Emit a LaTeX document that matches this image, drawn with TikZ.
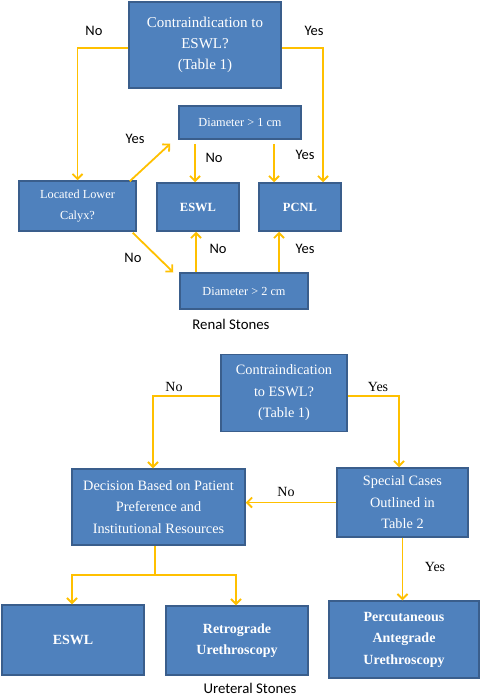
\documentclass[tikz,border=0pt]{standalone}
\usepackage{fontspec}
\setmainfont{Liberation Serif}
\newfontfamily\carl{Carlito}
\usetikzlibrary{arrows.meta}
\definecolor{boxfill}{HTML}{4F81BD}
\definecolor{boxline}{HTML}{3A5E8C}
\definecolor{gold}{HTML}{FFC000}
\begin{document}
\begin{tikzpicture}[x=1pt,y=-1pt,
  box/.style={draw=boxline,fill=boxfill,line width=1.5pt,text=white,align=center,inner sep=0pt},
  topbig/.style={font=\fontsize{15}{21}\selectfont},
  topsmall/.style={font=\fontsize{12.3}{21}\selectfont},
  topbold/.style={font=\fontsize{12.5}{15}\selectfont\bfseries},
  bot/.style={font=\fontsize{14.3}{21.5}\selectfont},
  botbold/.style={font=\fontsize{14}{21.5}\selectfont\bfseries},
  arr/.style={draw=gold,line width=1.8pt,-{Straight Barb[length=5pt,width=10pt]}},
  conn/.style={draw=gold,line width=1.8pt},
  lblc/.style={font=\fontsize{14.5}{16}\selectfont\carl},
  lblt/.style={font=\fontsize{14}{16}\selectfont}]
\useasboundingbox (0,0) rectangle (480,698);
% ---------- Renal stones ----------
\node[box,topbig,minimum width=152,minimum height=86] (A) at (205,45) {Contraindication to\\ESWL?\\(Table 1)};
\node[box,topsmall,minimum width=122,minimum height=33] (D1) at (240,122.5) {Diameter {>} 1 cm};
\node[box,topsmall,minimum width=117,minimum height=50] (L) at (77.5,206) {Located Lower\\Calyx?};
\node[box,topbold,minimum width=82,minimum height=48] (E1) at (198,207) {ESWL};
\node[box,topbold,minimum width=82,minimum height=48] (P1) at (300,207) {PCNL};
\node[box,topsmall,minimum width=128,minimum height=36] (D2) at (244,291) {Diameter {>} 2 cm};

\draw[arr] ([yshift=-3pt]A.west) -| (L.north);
\draw[arr] ([yshift=-3pt]A.east) -| ([xshift=23pt]P1.north);
\coordinate (e1n) at ([xshift=-3pt]E1.north);
\coordinate (p1n) at ([xshift=-26pt]P1.north);
\draw[arr] (D1.south -| e1n) ++(0,4) -- (e1n);
\draw[arr] (D1.south -| p1n) ++(0,4) -- (p1n);
\draw[arr] ([xshift=-7pt,yshift=-1pt]L.north east) -- ([xshift=-8pt,yshift=-4pt]D1.south west);
\draw[arr] ([xshift=-4pt,yshift=-1pt]L.south east) -- ([xshift=-6pt]D2.north west);
\coordinate (e1s) at ([xshift=-2pt]E1.south);
\coordinate (p1s) at ([xshift=-21pt]P1.south);
\draw[arr] (D2.north -| e1s) -- (e1s);
\draw[arr] (D2.north -| p1s) -- (p1s);

\node[lblc] (l1) at (94,31) {No};
\node[lblc] (l2) at (314,31) {Yes};
\node[lblc] (l3) at (135,139) {Yes};
\node[lblc] (l4) at (214,158) {No};
\node[lblc] (l5) at (305,155) {Yes};
\node[lblc] (l6) at (133,258) {No};
\node[lblc] (l7) at (218,249) {No};
\node[lblc] (l8) at (305,249) {Yes};
\node[font=\fontsize{14.8}{16}\selectfont\carl] (t1) at (231,324) {Renal Stones};

% ---------- Ureteral stones ----------
\node[box,bot,minimum width=126,minimum height=77] (B) at (284,393) {Contraindication\\to ESWL?\\(Table 1)};
\node[box,bot,minimum width=173,minimum height=76] (Dec) at (158.5,507) {Decision Based on Patient\\Preference and\\Institutional Resources};
\node[box,bot,minimum width=131,minimum height=69] (Spec) at (402.5,502.5) {Special Cases\\Outlined in\\Table 2};
\node[box,botbold,minimum width=142,minimum height=70] (E2) at (73,640) {ESWL};
\node[box,botbold,minimum width=142,minimum height=69] (R) at (237,640.5) {Retrograde\\Urethroscopy};
\node[box,botbold,minimum width=150,minimum height=77] (Pc) at (404,639.5) {Percutaneous\\Antegrade\\Urethroscopy};

\draw[arr] ([yshift=-3pt]B.west) -| ([xshift=-5.5pt]Dec.north);
\draw[arr] ([yshift=-3pt]B.east) -| ([xshift=-3.5pt]Spec.north);
\draw[arr] (Spec.west) -- (Spec.west -| Dec.east);
\coordinate (ds) at ([xshift=-3.5pt]Dec.south);
\coordinate (j) at ([yshift=-29pt]ds);
\draw[conn] (ds) -- (j);
\draw[arr] (j) -| ([xshift=-1pt]E2.north);
\draw[arr] (j) -| ([xshift=-1pt]R.north);
\draw[arr] (Spec.south) -- (Spec.south |- Pc.north);

\node[lblt] (m1) at (174,387) {No};
\node[lblt] (m2) at (378,387) {Yes};
\node[lblt] (m3) at (286,492) {No};
\node[lblt] (m4) at (435,567) {Yes};
\node[font=\fontsize{14.8}{16}\selectfont\carl] (t2) at (250,688) {Ureteral Stones};
\end{tikzpicture}
\end{document}
